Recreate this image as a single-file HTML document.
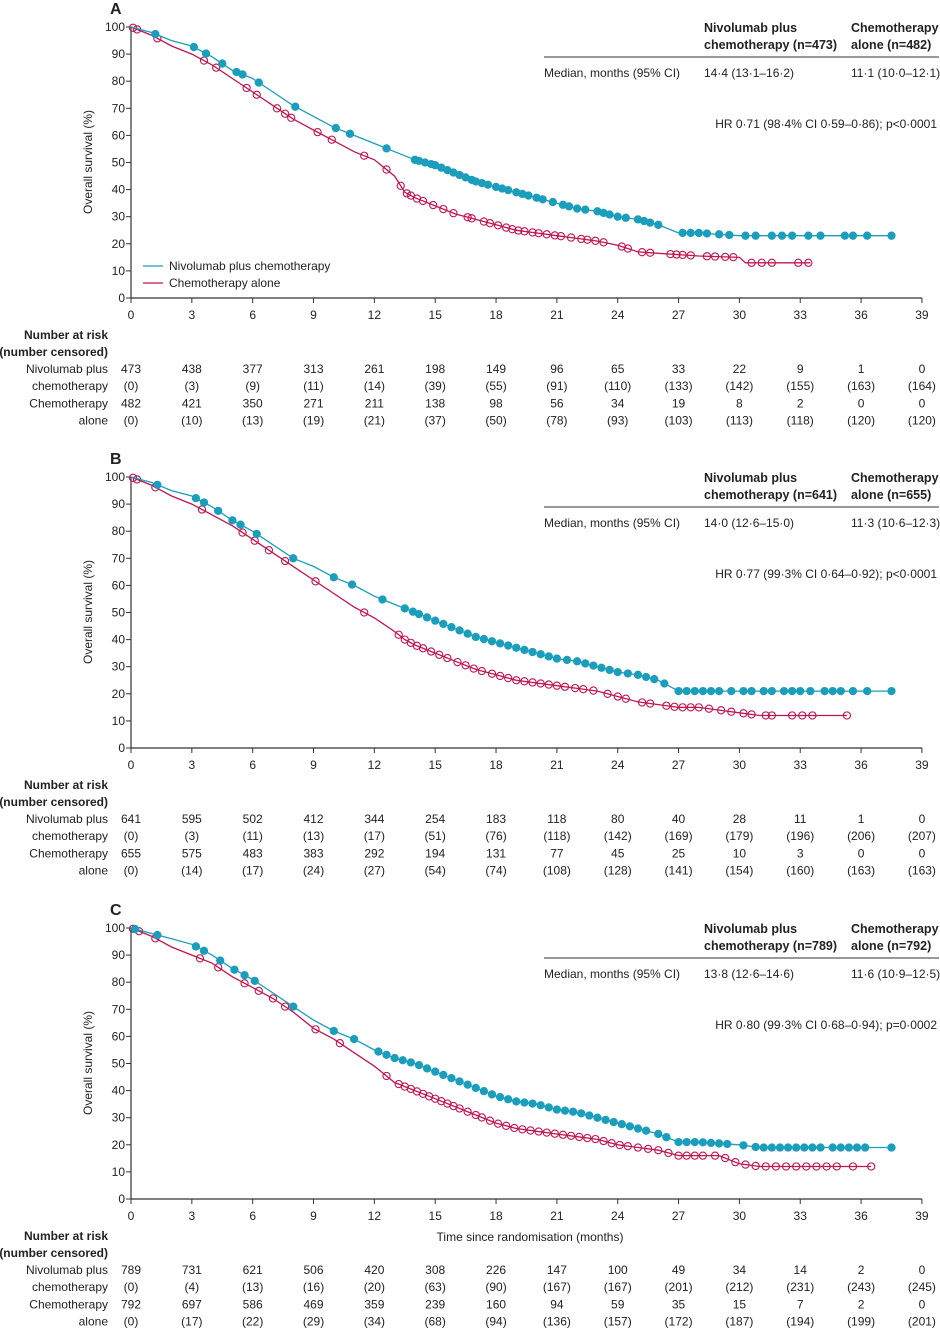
<!DOCTYPE html>
<html><head><meta charset="utf-8">
<style>
html,body{margin:0;padding:0;background:#fff;}
svg{display:block;font-family:"Liberation Sans",sans-serif;}
</style></head>
<body>
<svg id="chart" width="940" height="1339" viewBox="0 0 940 1339"></svg>
<script>
// ---------- data ----------
const xTicks = [0,3,6,9,12,15,18,21,24,27,30,33,36,39];
const yTicks = [0,10,20,30,40,50,60,70,80,90,100];

// Panel A
const aNivoT = [0,1,2,3,4,5,6,7,8,9,10,11,12,13,14,15,16,17,18,19,20,21,22,23,24,25,26,27,28,30,37.5];
const aNivoS = [100,98,95,93,89,84,81,76,71,67,63,60,57,54,51,49,46,43,41,39,37,35,33,32,30,29,27,24,24,23,23];
const aChemT = [0,1,2,3,4,5,6,7,8,9,10,11,12,13,13.5,14,15,16,17,18,19,20,21,22,23,24,25,26,27,28,30,30.3,33.5];
const aChemS = [100,97,93,90,86,81,76,71,66,62,58,54,51,45,39,37,34,31,29,27,25,24,23,22,21,19.5,17,16.5,16,15.5,15,13,13];
const aNivoCens = [1.2,3.1,3.7,4.5,5.2,5.5,6.3,8.1,10.1,10.8,12.6,14.0,14.2,14.5,14.8,15.0,15.3,15.6,15.9,16.2,16.5,16.8,17.0,17.3,17.6,18,18.3,18.6,19,19.3,19.6,20,20.3,20.8,21.3,21.6,22,22.4,23,23.3,23.6,24,24.4,25,25.3,25.6,26,27.2,27.6,28,28.4,29,29.5,30.3,30.8,31.6,32.1,32.6,33.4,34,35.2,35.6,36.3,37.5];
const aChemCens = [0.1,0.3,1.3,3.6,4.2,5.7,6.2,7.2,7.6,7.9,9.2,9.9,11.5,12.6,13.3,13.6,13.8,14.1,14.4,14.9,15.4,15.9,16.6,16.8,17.4,17.7,18.1,18.5,18.8,19.1,19.4,19.8,20.1,20.5,20.9,21.2,21.7,22.2,22.5,22.9,23.3,24.2,24.5,25.2,25.6,26.6,26.9,27.2,27.6,28.4,28.8,29.3,29.7,30.6,31.1,31.6,32.9,33.4];

// Panel B
const bNivoT = [0,1,2,3,4,5,6,7,8,9,10,11,12,13,14,15,16,17,18,19,20,21,22,23,24,25,26,27,28,30,37.5];
const bNivoS = [100,98,95,93,89,84,80,75,70,67,63,60,56,53,50,47,44,41,39,37,35,33,32,30,28,27,25,21,21,21,21];
const bChemT = [0,1,2,3,4,5,6,7,8,9,10,11,12,13,13.5,14,15,16,17,18,19,20,21,22,23,24,25,26,27,28,29,30,31,35.3];
const bChemS = [100,97,93,90,86,82,77,72,67,62,57,52,48,43,40,38,35,32,29,27,25,24,23,22,21,19,17,16,15,15,14,13,12,12];
const bNivoCens = [1.3,3.2,3.6,4.3,5.0,5.4,6.2,8.0,10.0,10.9,12.4,13.5,13.9,14.2,14.6,15.0,15.4,15.8,16.2,16.6,17,17.4,17.8,18.2,18.6,19,19.4,19.8,20.2,20.6,21,21.5,22,22.4,22.8,23.2,23.6,24,24.5,25,25.4,25.8,26.3,27,27.4,27.8,28.2,28.6,29,29.6,30.2,30.6,31.2,31.6,32.2,32.6,33,33.5,34.2,34.6,35,35.6,36.3,37.5];
const bChemCens = [0.1,0.3,1.2,3.5,5.5,6.1,6.8,7.6,9.1,11.5,13.2,13.5,13.8,14.1,14.4,14.8,15.2,15.6,16.1,16.5,16.9,17.3,17.8,18.2,18.6,19,19.4,19.8,20.2,20.6,21,21.4,21.9,22.3,22.8,23.5,24,24.4,25.2,25.6,26.4,26.8,27.2,27.6,28,28.5,29.1,29.6,30.2,30.6,31.3,31.6,32.6,33.1,33.6,35.3];

// Panel C
const cNivoT = [0,1,2,3,4,5,6,7,8,9,10,11,12,13,14,15,16,17,18,19,20,21,22,23,24,25,26,27,28,30,31,37.5];
const cNivoS = [100,98,96,94,90,85,81,76,71,66,62,59,55,52,50,47,44,41,38,36,35,33,32,30,28,26,24,21,21,20,19,19];
const cChemT = [0,1,2,3,4,5,6,7,8,9,10,11,12,13,14,15,16,17,18,19,20,21,22,23,24,25,26,27,28,29,30,31,36.5];
const cChemS = [100,97,93,90,87,82,78,74,69,63,59,54,49,43,40,37,34,31,28,26,25,24,23,22,20,19,18,16,16,16,13,12,12];
const cNivoCens = [0.2,1.3,3.2,3.6,4.4,5.1,5.6,6.1,8.0,10.0,11.0,12.2,12.6,13.0,13.4,13.8,14.2,14.6,15,15.4,15.8,16.2,16.6,17,17.4,17.8,18.2,18.6,19,19.4,19.8,20.2,20.6,21,21.4,21.8,22.2,22.6,23,23.4,23.8,24.2,24.6,25,25.4,26,26.4,27,27.4,27.8,28.2,28.6,29,29.4,30.2,30.8,31.2,31.6,32,32.4,32.8,33.2,33.6,34,34.6,35,35.4,35.8,36.2,37.5];
const cChemCens = [0.1,0.4,1.2,3.4,4.3,5.6,6.3,7.0,7.6,9.1,10.3,12.6,13.2,13.5,13.8,14.1,14.4,14.7,15,15.3,15.6,15.9,16.2,16.6,17,17.3,17.7,18.1,18.5,18.9,19.3,19.7,20.1,20.5,20.9,21.3,21.7,22.1,22.5,22.9,23.3,23.7,24.1,24.5,25,25.5,26,26.5,27,27.4,27.8,28.2,28.8,29.3,29.8,30.3,30.8,31.3,31.8,32.3,32.8,33.3,33.8,34.3,34.8,35.6,36.5];

// Risk tables
const aRiskNivo = ["473","438","377","313","261","198","149","96","65","33","22","9","1","0"];
const aCensNivo = ["(0)","(3)","(9)","(11)","(14)","(39)","(55)","(91)","(110)","(133)","(142)","(155)","(163)","(164)"];
const aRiskChem = ["482","421","350","271","211","138","98","56","34","19","8","2","0","0"];
const aCensChem = ["(0)","(10)","(13)","(19)","(21)","(37)","(50)","(78)","(93)","(103)","(113)","(118)","(120)","(120)"];
const bRiskNivo = ["641","595","502","412","344","254","183","118","80","40","28","11","1","0"];
const bCensNivo = ["(0)","(3)","(11)","(13)","(17)","(51)","(76)","(118)","(142)","(169)","(179)","(196)","(206)","(207)"];
const bRiskChem = ["655","575","483","383","292","194","131","77","45","25","10","3","0","0"];
const bCensChem = ["(0)","(14)","(17)","(24)","(27)","(54)","(74)","(108)","(128)","(141)","(154)","(160)","(163)","(163)"];
const cRiskNivo = ["789","731","621","506","420","308","226","147","100","49","34","14","2","0"];
const cCensNivo = ["(0)","(4)","(13)","(16)","(20)","(63)","(90)","(167)","(167)","(201)","(212)","(231)","(243)","(245)"];
const cRiskChem = ["792","697","586","469","359","239","160","94","59","35","15","7","2","0"];
const cCensChem = ["(0)","(17)","(22)","(29)","(34)","(68)","(94)","(136)","(157)","(172)","(187)","(194)","(199)","(201)"];

// ---------- drawing ----------
const NS = "http://www.w3.org/2000/svg";
const svg = document.getElementById('chart');
const CYAN = "#1b9ebb", RED = "#c2154f", INK = "#222";
function mk(tag, attrs, parent){
  const e = document.createElementNS(NS, tag);
  for (const k in attrs) e.setAttribute(k, attrs[k]);
  (parent||svg).appendChild(e);
  return e;
}
function txt(x,y,s,anchor,size,weight,parent){
  const t = mk('text',{x:x,y:y,'text-anchor':anchor||'start','font-size':size||12,'font-weight':weight||'normal',fill:INK},parent);
  t.textContent = s; return t;
}
const X0 = 131, PXM = 20.28;
function xs(t){ return X0 + t*PXM; }
function interp(T,S,t){
  if (t<=T[0]) return S[0];
  for (let i=1;i<T.length;i++){ if (t<=T[i]) return S[i-1]+(S[i]-S[i-1])*(t-T[i-1])/(T[i]-T[i-1]); }
  return S[S.length-1];
}

function panel(cfg){
  const top = cfg.top, bot = top + 271;
  const ys = v => bot - v*2.71;
  const g = mk('g',{});
  
  
  const lt = txt(110, top-13, cfg.letter, 'start', 16, 'bold', g);
   
  const ya = mk('line',{x1:X0,y1:top,x2:X0,y2:bot,stroke:"#333",'stroke-width':1.2},g);
   
  const xa = mk('line',{x1:X0,y1:bot,x2:xs(39),y2:bot,stroke:"#333",'stroke-width':1.2},g);
   
  yTicks.forEach(v=>{
    mk('line',{x1:X0-5,y1:ys(v),x2:X0,y2:ys(v),stroke:"#333"},g);
    const t = txt(125, ys(v)+4, String(v), 'end', 12, 'normal', g);
     
  });
  xTicks.forEach(v=>{
    mk('line',{x1:xs(v),y1:bot,x2:xs(v),y2:bot+5,stroke:"#333"},g);
    const t = txt(xs(v), bot+21, String(v), 'middle', 12, 'normal', g);
     
  });
  const yt = txt(0,0,'Overall survival (%)','middle',12,'normal',g);
  yt.setAttribute('transform',`translate(92 ${top+135}) rotate(-90)`);
   
  [[cfg.chemT,cfg.chemS,cfg.chemC,RED,false,'chemo-alone'],[cfg.nivoT,cfg.nivoS,cfg.nivoC,CYAN,true,'nivolumab-chemo']].forEach(([T,S,C,col,fill,nm])=>{
    const pts = T.map((t,i)=>xs(t).toFixed(1)+','+ys(S[i]).toFixed(1)).join(' ');
    const pl = mk('polyline',{points:pts,fill:'none',stroke:col,'stroke-width':1.3},g);
     
    C.forEach(t=>{
      const c = mk('circle',{cx:xs(t),cy:ys(interp(T,S,t)),r:3.6,fill:fill?col:'none',stroke:col,'stroke-width':1.1},g);
       
    });
  });
  // summary table
  const st = top;
  [['Nivolumab plus',704,st+5],['chemotherapy (n='+cfg.nN+')',704,st+22],['Chemotherapy',851,st+5],['alone (n='+cfg.nC+')',851,st+22]].forEach(([s,x,y])=>{
    const t = txt(x,y,s,'start',12.5,'bold',g);
     
  });
  mk('line',{x1:544,y1:st+30,x2:939,y2:st+30,stroke:'#333','stroke-width':1},g);
  const m1 = txt(544, st+50, 'Median, months (95% CI)', 'start', 12, 'normal', g);
   
  const m2 = txt(704, st+50, cfg.medN, 'start', 12, 'normal', g);
   
  const m3 = txt(851, st+50, cfg.medC, 'start', 12, 'normal', g);
   
  const hr = txt(937, st+101, cfg.hr, 'end', 12, 'normal', g);
   
  // risk table
  const rt = bot + 41;
  const h1 = txt(108, rt, 'Number at risk', 'end', 12, 'bold', g);
   
  const h2 = txt(108, rt+17, '(number censored)', 'end', 12, 'bold', g);
   
  const rows = [['Nivolumab plus',cfg.rN],['chemotherapy',cfg.cN],['Chemotherapy',cfg.rC],['alone',cfg.cC]];
  rows.forEach(([lab,vals],i)=>{
    const y = rt + 34 + i*17.2;
    const l = txt(108, y, lab, 'end', 12, 'normal', g);
     
    vals.forEach((v,j)=>{
      const t = txt(xs(xTicks[j]), y, v, 'middle', 12, 'normal', g);
       
    });
  });
  return {g, ys, bot};
}

const pA = panel({name:'panel-a',letter:'A',top:27,nivoT:aNivoT,nivoS:aNivoS,nivoC:aNivoCens,chemT:aChemT,chemS:aChemS,chemC:aChemCens,
  nN:'473',nC:'482',medN:'14·4 (13·1–16·2)',medC:'11·1 (10·0–12·1)',hr:'HR 0·71 (98·4% CI 0·59–0·86); p<0·0001',
  rN:aRiskNivo,cN:aCensNivo,rC:aRiskChem,cC:aCensChem});
const pB = panel({name:'panel-b',letter:'B',top:477,nivoT:bNivoT,nivoS:bNivoS,nivoC:bNivoCens,chemT:bChemT,chemS:bChemS,chemC:bChemCens,
  nN:'641',nC:'655',medN:'14·0 (12·6–15·0)',medC:'11·3 (10·6–12·3)',hr:'HR 0·77 (99·3% CI 0·64–0·92); p<0·0001',
  rN:bRiskNivo,cN:bCensNivo,rC:bRiskChem,cC:bCensChem});
const pC = panel({name:'panel-c',letter:'C',top:928,nivoT:cNivoT,nivoS:cNivoS,nivoC:cNivoCens,chemT:cChemT,chemS:cChemS,chemC:cChemCens,
  nN:'789',nC:'792',medN:'13·8 (12·6–14·6)',medC:'11·6 (10·9–12·5)',hr:'HR 0·80 (99·3% CI 0·68–0·94); p=0·0002',
  rN:cRiskNivo,cN:cCensNivo,rC:cRiskChem,cC:cCensChem});

const l1 = mk('line',{x1:143,y1:266,x2:163,y2:266,stroke:CYAN,'stroke-width':1.3});
 
const lt1 = txt(169,270,'Nivolumab plus chemotherapy','start',12,'normal');
 
const l2 = mk('line',{x1:143,y1:283,x2:163,y2:283,stroke:RED,'stroke-width':1.3});
 
const lt2 = txt(169,287,'Chemotherapy alone','start',12,'normal');
 

const xt = txt(530,1241,'Time since randomisation (months)','middle',12,'normal');
 
</script>
</body></html>
